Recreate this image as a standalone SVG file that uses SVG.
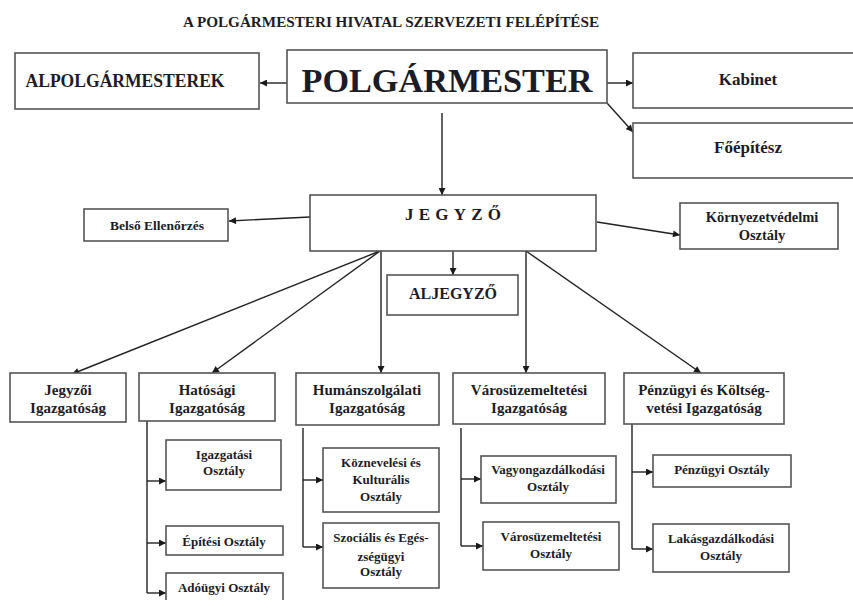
<svg xmlns="http://www.w3.org/2000/svg" width="853" height="600" viewBox="0 0 853 600">
<defs>
<marker id="ah" viewBox="0 0 10 10" refX="10" refY="5" markerWidth="8" markerHeight="7" markerUnits="userSpaceOnUse" orient="auto">
<path d="M0,0 L10,5 L0,10 z" fill="#1a1a1a"/>
</marker>
<style>
rect{fill:#fff;stroke:#555;stroke-width:1.6}
text{font-family:"Liberation Serif","Times New Roman",serif;font-weight:bold;fill:#1c1c28;text-anchor:middle}
.c line,.c polyline{stroke:#222;stroke-width:1.4;fill:none}
.a{marker-end:url(#ah)}
.l{font-size:15px}
.s{font-size:13px}
</style>
</defs>
<rect x="0" y="0" width="853" height="600" style="fill:#fff;stroke:none"/>
<text x="391" y="27" style="font-size:15px" textLength="416" lengthAdjust="spacingAndGlyphs">A POLGÁRMESTERI HIVATAL SZERVEZETI FELÉPÍTÉSE</text>

<g class="c" id="connectors">
<line class="a" x1="287" y1="83" x2="260" y2="83"/>
<line class="a" x1="607" y1="83" x2="633" y2="83"/>
<line class="a" x1="607" y1="103" x2="633" y2="132"/>
<line class="a" x1="442" y1="113" x2="442" y2="195"/>
<line class="a" x1="310" y1="217" x2="229" y2="221"/>
<line class="a" x1="597" y1="222" x2="680" y2="235"/>
<line class="a" x1="453" y1="251" x2="453" y2="275"/>
<line class="a" x1="380" y1="251" x2="72" y2="374"/>
<line class="a" x1="380" y1="251" x2="212" y2="373"/>
<line class="a" x1="381" y1="251" x2="381" y2="373"/>
<line class="a" x1="526" y1="251" x2="526" y2="373"/>
<line class="a" x1="526" y1="251" x2="701" y2="373"/>
<line x1="147" y1="421" x2="147" y2="593"/>
<line class="a" x1="147" y1="481" x2="166" y2="481"/>
<line class="a" x1="147" y1="543" x2="166" y2="543"/>
<line class="a" x1="147" y1="593" x2="166" y2="593"/>
<line x1="303" y1="428" x2="303" y2="547"/>
<line class="a" x1="303" y1="480" x2="323" y2="480"/>
<line class="a" x1="303" y1="547" x2="323" y2="547"/>
<line x1="461" y1="428" x2="461" y2="546"/>
<line class="a" x1="461" y1="479" x2="481" y2="479"/>
<line class="a" x1="461" y1="546" x2="483" y2="546"/>
<line x1="632" y1="424" x2="632" y2="549"/>
<line class="a" x1="632" y1="472" x2="653" y2="472"/>
<line class="a" x1="632" y1="549" x2="653" y2="549"/>
</g>

<g id="alpolgarmesterek"><rect x="15" y="53" width="244" height="56"/><text x="125" y="87" style="font-size:18px" textLength="199" lengthAdjust="spacingAndGlyphs">ALPOLGÁRMESTEREK</text></g>
<g id="polgarmester"><rect x="287" y="50" width="320" height="53"/><text x="447" y="92" style="font-size:34px" textLength="291" lengthAdjust="spacingAndGlyphs">POLGÁRMESTER</text></g>
<g id="kabinet"><rect x="633" y="53" width="225" height="55"/><text x="748" y="85" style="font-size:17px">Kabinet</text></g>
<g id="foepitesz"><rect x="633" y="123" width="225" height="55"/><text x="748" y="153" style="font-size:17px">Főépítész</text></g>
<g id="jegyzo"><rect x="310" y="195" width="286" height="56"/><text x="405" y="220" style="font-size:17px;text-anchor:start;letter-spacing:5.2px">JEGYZŐ</text></g>
<g id="belso"><rect x="84" y="209" width="144" height="32"/><text x="157" y="230" style="font-size:13.5px">Belső Ellenőrzés</text></g>
<g id="kornyezet"><rect x="680" y="203" width="158" height="46"/><text x="762" y="222" style="font-size:14.5px">Környezetvédelmi</text><text x="762" y="240" style="font-size:14.5px">Osztály</text></g>
<g id="aljegyzo"><rect x="387" y="275" width="131" height="40"/><text x="453" y="299" style="font-size:16px">ALJEGYZŐ</text></g>

<g id="jegyzoi"><rect x="10" y="373" width="116" height="49"/><text class="l" x="68" y="395">Jegyzői</text><text class="l" x="68" y="413">Igazgatóság</text></g>
<g id="hatosagi"><rect x="139" y="373" width="136" height="48"/><text class="l" x="207" y="395">Hatósági</text><text class="l" x="207" y="413">Igazgatóság</text></g>
<g id="human"><rect x="296" y="373" width="143" height="52"/><text class="l" x="367" y="395">Humánszolgálati</text><text class="l" x="367" y="413">Igazgatóság</text></g>
<g id="varos"><rect x="453" y="373" width="152" height="51"/><text class="l" x="529" y="395">Városüzemeltetési</text><text class="l" x="529" y="413">Igazgatóság</text></g>
<g id="penzugyi"><rect x="624" y="373" width="160" height="51"/><text class="l" x="704" y="395">Pénzügyi és Költség-</text><text class="l" x="704" y="413">vetési Igazgatóság</text></g>

<g id="igazgatasi"><rect x="166" y="440" width="115" height="50"/><text class="s" x="224" y="459">Igazgatási</text><text class="s" x="224" y="475">Osztály</text></g>
<g id="epitesi"><rect x="166" y="526" width="117" height="29"/><text class="s" x="224" y="546">Építési Osztály</text></g>
<g id="adougyi"><rect x="166" y="573" width="117" height="32"/><text class="s" x="224" y="592">Adóügyi Osztály</text></g>
<g id="koznevelesi"><rect x="323" y="448" width="116" height="64"/><text class="s" x="381" y="467">Köznevelési és</text><text class="s" x="381" y="484">Kulturális</text><text class="s" x="381" y="501">Osztály</text></g>
<g id="szocialis"><rect x="323" y="523" width="116" height="65"/><text class="s" x="381" y="542">Szociális és Egés-</text><text class="s" x="381" y="561">zségügyi</text><text class="s" x="381" y="576">Osztály</text></g>
<g id="vagyongazd"><rect x="481" y="456" width="135" height="47"/><text class="s" x="548" y="474">Vagyongazdálkodási</text><text class="s" x="548" y="491">Osztály</text></g>
<g id="varosuz-osztaly"><rect x="483" y="522" width="136" height="48"/><text class="s" x="551" y="541">Városüzemeltetési</text><text class="s" x="551" y="558">Osztály</text></g>
<g id="penzugyi-osztaly"><rect x="653" y="455" width="138" height="32"/><text class="s" x="722" y="474">Pénzügyi Osztály</text></g>
<g id="lakasgazd"><rect x="653" y="524" width="136" height="48"/><text class="s" x="721" y="543">Lakásgazdálkodási</text><text class="s" x="721" y="560">Osztály</text></g>
</svg>
